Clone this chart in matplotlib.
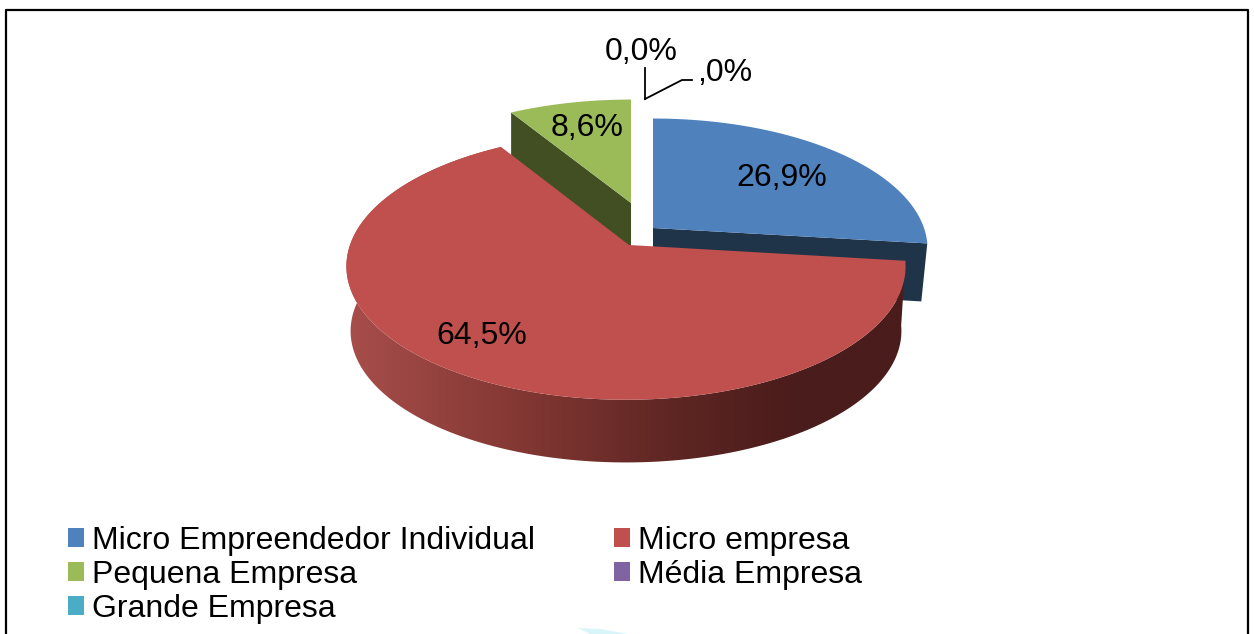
#!/usr/bin/env python3
"""3D-look pie of company sizes, drawn in pixel coordinates of the 1254x634 figure."""
import numpy as np
import matplotlib
matplotlib.use("Agg")
import matplotlib.pyplot as plt
from matplotlib.colors import LinearSegmentedColormap
from matplotlib.patches import Patch, Polygon

categories = ["Micro Empreendedor Individual", "Micro empresa", "Pequena Empresa",
              "Média Empresa", "Grande Empresa"]
shares = [26.9, 64.5, 8.6, 0.0, 0.0]
slice_labels = ["26,9%", "64,5%", "8,6%", "0,0%", ",0%"]
colors = ["#4F81BD", "#C0504D", "#9BBB59", "#8064A2", "#4BACC6"]

plt.rcParams["font.family"] = ["Liberation Sans", "DejaVu Sans"]
FS = 23
PERSP = 0.16  # back of the disc shrinks, front grows


def rim(theta, apex, rx, ry, scale=1.0, drop=0.0):
    """Project clockwise-from-top angles (deg) on to the tilted disc."""
    t = np.radians(theta)
    d = 1 + PERSP * np.cos(t)
    return (apex[0] + scale * rx * np.sin(t) / d,
            apex[1] - scale * ry * np.cos(t) / d + drop)


fig = plt.figure(figsize=(12.54, 6.34), dpi=100)
ax = fig.add_axes([0, 0, 1, 1])
ax.set_xlim(0, 1254)
ax.set_ylim(634, 0)
ax.axis("off")

# slice boundaries come from the shares
edges = np.concatenate([[0], np.cumsum(shares)]) * 3.6
blue = np.linspace(edges[0], edges[1], 80)
red = np.linspace(edges[1], edges[2], 200)
green = np.linspace(edges[2], 360, 40)

# outline of the chart area
ax.plot([6, 6, 1248, 1248], [634, 10, 10, 634], color="black", lw=1.6, zorder=1)
ax.fill([578, 600, 628, 590], [628, 629, 634, 634], color="#d8f5fa", lw=0, zorder=1)

# green slice, pulled out
g_apex = (631, 203)
gx, gy = rim(green, g_apex, 265, 120)
tipx, tipy = gx[0], gy[0]
ax.fill([g_apex[0], tipx, tipx, g_apex[0]],
        [g_apex[1], tipy, tipy + 50, g_apex[1] + 50], color="#424F22", lw=0, zorder=2)
ax.fill(np.r_[g_apex[0], gx], np.r_[g_apex[1], gy], color=colors[2], lw=0, zorder=3)

# blue slice, pulled out
b_apex = (653, 228)
bx, by = rim(blue, b_apex, 271, 127)
ex, ey = bx[-1], by[-1]
ax.fill([b_apex[0], ex, ex - 6, b_apex[0]],
        [b_apex[1], ey, ey + 58, b_apex[1] + 58], color="#1F3349", lw=0, zorder=2)
ax.fill(np.r_[b_apex[0], bx], np.r_[b_apex[1], by], color=colors[0], lw=0, zorder=3)

# red slice: side wall with a horizontal shade, then the top
r_apex = (629, 245)
r_mid = (626, 245)  # rim sits a little left of the visible apex
tx, ty = rim(red, r_mid, 276, 130)
sx, sy = rim(red, r_mid, 276, 130, scale=0.985, drop=65)
wall = Polygon(np.c_[np.r_[tx, sx[::-1]], np.r_[ty, sy[::-1]]], closed=True,
               transform=ax.transData, fc="none", ec="none")
ax.add_patch(wall)
shade = LinearSegmentedColormap.from_list(
    "wall", [(0, "#A84E4B"), (0.3, "#843834"), (0.6, "#5C2522"), (0.8, "#4A1C1B"), (1, "#4A1C1B")])
im = ax.imshow(np.linspace(0, 1, 256)[None, :], cmap=shade, aspect="auto",
               extent=(345, 910, 480, 140), zorder=4)
im.set_clip_path(wall)
ax.set_xlim(0, 1254)
ax.set_ylim(634, 0)
ax.fill(np.r_[r_apex[0], tx], np.r_[r_apex[1], ty], color=colors[1], lw=0, zorder=5)

# data labels
label_xy = [(782, 178), (482, 336), (587, 128), (641, 52), (725, 73)]
for txt, (x, y) in zip(slice_labels, label_xy):
    ax.text(x, y, txt, fontsize=FS, ha="center", va="center", color="black", zorder=6)

# leader lines of the two empty slices
ax.plot([645, 645], [68, 99], color="black", lw=1.3, zorder=6)
ax.plot([645, 682, 692], [99, 80, 80], color="black", lw=1.3, zorder=6)

# legend fills column by column, the reference reads row by row
handles = [Patch(color=c, label=n, lw=0) for c, n in zip(colors, categories)]
handles = [handles[i] for i in (0, 2, 4, 1, 3)]
ax.legend(handles=handles, ncol=2, frameon=False, fontsize=FS, loc="upper left",
          bbox_to_anchor=(68, 526), bbox_transform=ax.transData, borderpad=0, borderaxespad=0,
          handlelength=0.51, handleheight=0.51, handletextpad=0.24,
          columnspacing=2.47, labelspacing=0.12)

fig.savefig("out.png", dpi=100)
